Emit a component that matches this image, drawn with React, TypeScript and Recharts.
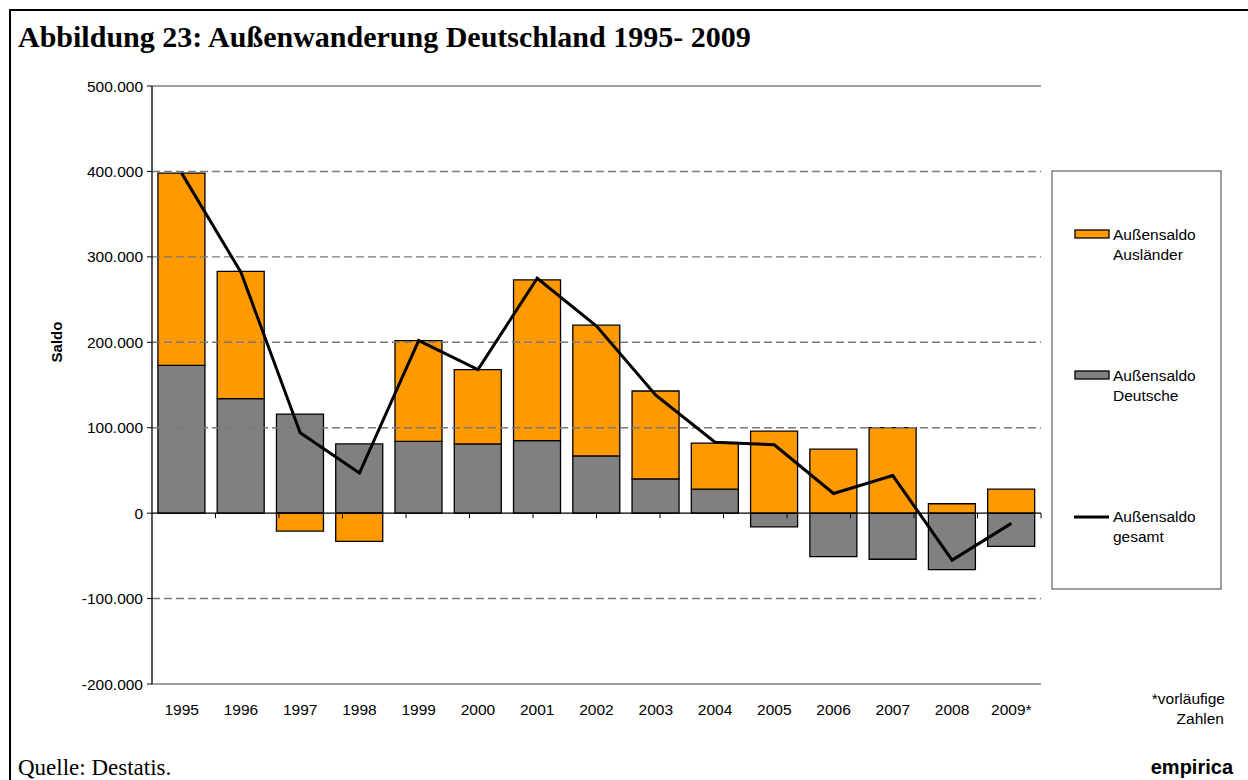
import React from 'react';
import { ComposedChart, Bar, Line, XAxis, YAxis, ReferenceLine } from 'recharts';

const years = ['1995', '1996', '1997', '1998', '1999', '2000', '2001', '2002', '2003', '2004', '2005', '2006', '2007', '2008', '2009*'];
const deutsche = [173000, 134000, 116000, 81000, 84000, 81000, 85000, 67000, 40000, 28000, -16000, -51000, -54000, -66000, -39000];
const auslaender = [225000, 149000, -21000, -33000, 118000, 87000, 188000, 153000, 103000, 54000, 96000, 75000, 100000, 11000, 28000];
const gesamt = [398000, 282000, 94000, 47000, 202000, 168000, 275000, 219000, 138000, 83000, 80000, 23000, 44000, -55000, -12000];
const yTicks = [-200000, -100000, 0, 100000, 200000, 300000, 400000, 500000];
const gridValues = [400000, 300000, 200000, 100000, -100000];

const seriesNames = {
  auslaender: ['Außensaldo', 'Ausländer'],
  deutsche: ['Außensaldo', 'Deutsche'],
  gesamt: ['Außensaldo', 'gesamt'],
};

const data = years.map((y, i) => ({
  year: y,
  deutsche: deutsche[i],
  auslaender: auslaender[i],
  gesamt: gesamt[i],
}));

const boundaries = years.map((_, i) => i + 1);

const fmt = (v: number) => {
  if (v === 0) return '0';
  const k = Math.abs(v) / 1000;
  return (v < 0 ? '-' : '') + k + '.000';
};

const FONT = '"Liberation Sans", Arial, sans-serif';
const SERIF = '"Liberation Serif", "Times New Roman", serif';
const FS = 15.5;

export default function App() {
  return (
    <div style={{ position: 'absolute', left: 0, top: 0, width: 1248, height: 780, overflow: 'hidden', background: '#fff' }}>
      <div style={{ position: 'absolute', left: 9, top: 9, width: 1250, height: 800, borderTop: '2px solid #000', borderLeft: '2px solid #000' }} />
      <div style={{ position: 'absolute', left: 0, top: 0 }}>
        <ComposedChart
          width={1248}
          height={780}
          data={data}
          stackOffset="sign"
          margin={{ top: 86, right: 207, left: 92, bottom: 66 }}
        >
          <XAxis
            dataKey="year"
            height={30}
            axisLine={false}
            tickLine={false}
            tickSize={0}
            tickMargin={20}
            interval={0}
            tick={{ fill: '#000', fontSize: FS, fontFamily: FONT }}
          />
          <XAxis xAxisId="num" type="number" domain={[0, 15]} hide />
          <YAxis
            width={60}
            domain={[-200000, 500000]}
            ticks={yTicks}
            tickFormatter={fmt}
            interval={0}
            axisLine={{ stroke: '#000', strokeWidth: 1.3 }}
            tickLine={{ stroke: '#000', strokeWidth: 1 }}
            tickSize={5}
            tickMargin={4}
            tick={{ fill: '#000', fontSize: FS, fontFamily: FONT }}
          />
          {gridValues.map((g) => (
            <ReferenceLine key={'g' + g} y={g} stroke="#7a7a7a" strokeWidth={1.4} strokeDasharray="8 4" />
          ))}
          <ReferenceLine y={500000} stroke="#808080" strokeWidth={1.3} />
          <ReferenceLine y={-200000} stroke="#808080" strokeWidth={1.3} />
          <ReferenceLine xAxisId="num" x={15} stroke="#808080" strokeWidth={1.3} />
          <Bar dataKey="deutsche" stackId="a" fill="#808080" stroke="#000" strokeWidth={1.3} barCategoryGap="12%" isAnimationActive={false} />
          <Bar dataKey="auslaender" stackId="a" fill="#FF9900" stroke="#000" strokeWidth={1.3} isAnimationActive={false} />
          <ReferenceLine y={0} stroke="#000" strokeWidth={1.3} />
          {boundaries.map((b) => (
            <ReferenceLine
              key={'b' + b}
              xAxisId="num"
              segment={[{ x: b, y: 0 }, { x: b, y: -6000 }]}
              stroke="#000"
              strokeWidth={1}
            />
          ))}
          <Line dataKey="gesamt" type="linear" stroke="#000" strokeWidth={3} dot={false} isAnimationActive={false} />
        </ComposedChart>
      </div>
      <svg width={1248} height={780} style={{ position: 'absolute', left: 0, top: 0, pointerEvents: 'none' }}>
        <text x={18} y={47} fontFamily={SERIF} fontWeight="bold" fontSize={30} fill="#000">
          Abbildung 23: Außenwanderung Deutschland 1995- 2009
        </text>
        <text x={62} y={342} fontFamily={FONT} fontWeight="bold" fontSize={15} fill="#000" textAnchor="middle" transform="rotate(-90 62 342)">
          Saldo
        </text>
        <rect x={1052} y={171} width={169} height={418} fill="#fff" stroke="#404040" strokeWidth={1} />
        <rect x={1075} y={230} width={34} height={8} fill="#FF9900" stroke="#000" strokeWidth={1.3} />
        <text x={1113} y={240} fontFamily={FONT} fontSize={FS} fill="#000">{seriesNames.auslaender[0]}</text>
        <text x={1113} y={260} fontFamily={FONT} fontSize={FS} fill="#000">{seriesNames.auslaender[1]}</text>
        <rect x={1075} y={371} width={34} height={8} fill="#808080" stroke="#000" strokeWidth={1.3} />
        <text x={1113} y={381} fontFamily={FONT} fontSize={FS} fill="#000">{seriesNames.deutsche[0]}</text>
        <text x={1113} y={401} fontFamily={FONT} fontSize={FS} fill="#000">{seriesNames.deutsche[1]}</text>
        <line x1={1074} y1={517} x2={1109} y2={517} stroke="#000" strokeWidth={3} />
        <text x={1113} y={522} fontFamily={FONT} fontSize={FS} fill="#000">{seriesNames.gesamt[0]}</text>
        <text x={1113} y={542} fontFamily={FONT} fontSize={FS} fill="#000">{seriesNames.gesamt[1]}</text>
        <text x={1225} y={704} fontFamily={FONT} fontSize={FS} fill="#000" textAnchor="end">*vorläufige</text>
        <text x={1224} y={724} fontFamily={FONT} fontSize={FS} fill="#000" textAnchor="end">Zahlen</text>
        <text x={18} y={775} fontFamily={SERIF} fontSize={23} fill="#000">Quelle: Destatis.</text>
        <text x={1233} y={774} fontFamily={FONT} fontWeight="bold" fontSize={20} fill="#000" textAnchor="end">empirica</text>
      </svg>
    </div>
  );
}
